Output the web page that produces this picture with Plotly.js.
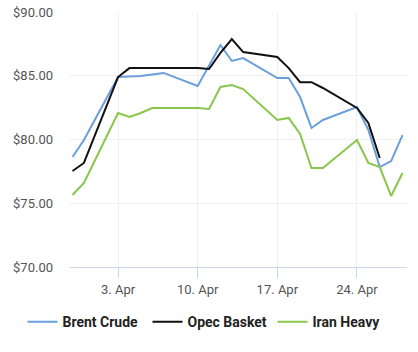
<!DOCTYPE html>
<html>
<head>
<meta charset="utf-8">
<script src="https://cdn.plot.ly/plotly-3.0.1.min.js"></script>
<style>html,body{margin:0;padding:0;background:#fff;}#chart{width:418px;height:352px;}</style>
</head>
<body>
<div id="chart"></div>
<script>
const dates = ['2017-03-30','2017-03-31','2017-04-03','2017-04-04','2017-04-05','2017-04-06','2017-04-07',
  '2017-04-10','2017-04-11','2017-04-12','2017-04-13','2017-04-14','2017-04-17','2017-04-18','2017-04-19',
  '2017-04-20','2017-04-21','2017-04-24','2017-04-25','2017-04-26','2017-04-27','2017-04-28'];
const brentCrude = [78.63,79.96,84.90,84.92,84.98,85.10,85.22,84.20,85.76,87.41,86.16,86.39,84.82,84.82,83.33,
  80.90,81.53,82.55,80.75,77.84,78.31,80.35];
const opecBasket = [77.53,78.16,84.90,85.60,85.60,85.60,85.60,85.60,85.53,86.80,87.88,86.86,86.47,85.60,84.50,
  84.50,84.04,82.47,81.30,78.55,null,null];
const iranHeavy = [75.65,76.59,82.08,81.76,82.08,82.47,82.47,82.47,82.40,84.12,84.27,83.96,81.53,81.69,80.43,
  77.76,77.76,79.96,78.16,77.84,75.57,77.37];
const seriesNames = ['Brent Crude','Opec Basket','Iran Heavy'];
const tickDates = ['2017-04-03','2017-04-10','2017-04-17','2017-04-24'];
const tickLabels = ['3. Apr','10. Apr','17. Apr','24. Apr'];
const yTicks = [70,75,80,85,90];
const yTickLabels = ['$70.00','$75.00','$80.00','$85.00','$90.00'];

const colors = ['#6a9fdb','#111111','#88c64c'];
const series = [brentCrude, opecBasket, iranHeavy];
const traces = series.map((s,i)=>({
  type:'scatter', mode:'lines', x:dates, y:s, name:seriesNames[i],
  line:{color:colors[i], width:2}, connectgaps:false
}));

const layout = {
  width:418, height:352,
  margin:{l:70, r:11, t:12, b:85, autoexpand:false},
  paper_bgcolor:'#fff', plot_bgcolor:'#fff',
  font:{family:'Roboto, sans-serif', color:'#555'},
  showlegend:true,
  legend:{orientation:'h', xref:'paper', yref:'paper', x:-0.141, xanchor:'left', y:-0.216, yanchor:'middle',
    font:{family:'Roboto, sans-serif', size:14, color:'#222', weight:'bold'}, itemwidth:30, traceorder:'normal',
    entrywidth:80, entrywidthmode:'pixels'},
  xaxis:{type:'date', range:['2017-03-29 18:40','2017-04-28 09:30'],
    tickmode:'array', tickvals:tickDates, ticktext:tickLabels,
    ticks:'outside', ticklen:10, tickcolor:'#ccd6eb', tickwidth:1,
    showline:true, linecolor:'#ccd6eb', linewidth:1,
    showgrid:true, gridcolor:'#f0f0f0', gridwidth:1, zeroline:false,
    tickfont:{size:13, color:'#555'}},
  yaxis:{range:[70,90], tickmode:'array', tickvals:yTicks, ticktext:yTickLabels,
    showgrid:true, gridcolor:'#f0f0f0', gridwidth:1, zeroline:false, showline:false,
    ticks:'', ticklabelstandoff:16, tickfont:{size:13, color:'#555'}}
};
Plotly.newPlot('chart', traces, layout, {displayModeBar:false, staticPlot:true});
</script>
</body>
</html>
